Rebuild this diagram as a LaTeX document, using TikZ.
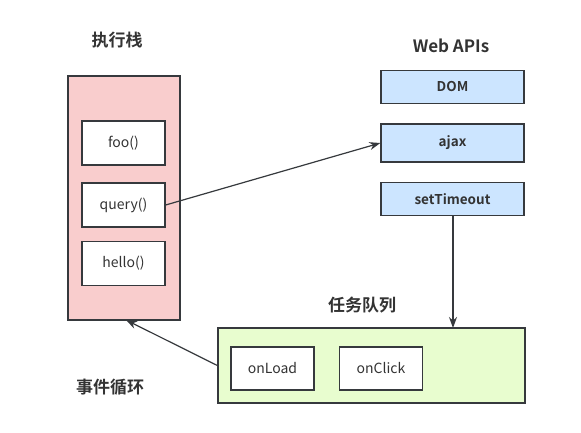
\documentclass[tikz,border=0pt]{standalone}
\usepackage{fontspec}
\setmainfont{Noto Sans CJK SC}
\newfontfamily\cjkbold{Noto Sans CJK SC Bold}
\usetikzlibrary{arrows.meta}
\definecolor{stackfill}{HTML}{F9CDCD}
\definecolor{apifill}{HTML}{CCE5FF}
\definecolor{queuefill}{HTML}{E8FDCF}
\definecolor{edge}{HTML}{36393D}
\definecolor{txt}{HTML}{333333}
\begin{document}
\begin{tikzpicture}[x=1pt,y=-1pt,
  box/.style={draw=edge,line width=1.3pt,inner sep=0pt,text=txt},
  itembox/.style={box,fill=white,minimum width=83pt,minimum height=44pt,font=\fontsize{14}{16}\selectfont},
  apibox/.style={box,fill=apifill,minimum width=143pt,minimum height=33pt,font=\cjkbold\fontsize{13.5}{16}\selectfont},
  title/.style={font=\cjkbold\fontsize{17}{19}\selectfont,inner sep=0pt,text=txt},
  conn/.style={draw=edge,line width=1.2pt,-{Stealth[length=11pt,width=8pt]}}]
\useasboundingbox (0,0) rectangle (581,433);
\fill[white] (0,0) rectangle (581,433);
% stack
\node[box,fill=stackfill,minimum width=112pt,minimum height=244pt] (stack) at (124,198) {};
\node[title] (stacktitle) at (117,40) {执行栈};
\node[itembox] (foo) at (123.5,143) {foo()};
\node[itembox] (query) at (123.5,205) {query()};
\node[itembox] (hello) at (123.5,263.5) {hello()};
% web apis
\node[title] (apititle) at (451,46) {Web APIs};
\node[apibox] (dom) at (452.5,87) {DOM};
\node[apibox,minimum height=38pt] (ajax) at (452.5,143) {ajax};
\node[apibox] (timeout) at (452.5,199) {setTimeout};
% queue
\node[box,fill=queuefill,minimum width=307pt,minimum height=75pt] (queue) at (371.5,365.5) {};
\node[title] (queuetitle) at (362,305) {任务队列};
\node[itembox,minimum height=43pt] (onload) at (272.5,368.5) {onLoad};
\node[itembox,minimum height=43pt] (onclick) at (381,368.5) {onClick};
\node[title] (looptitle) at (110,387) {事件循环};
% connectors
\coordinate (stackin) at (126,320);
\coordinate (timeoutout) at (453,215);
\coordinate (queuein) at (453,328);
\draw[conn] (query.east) -- (ajax.west);
\draw[conn] (timeoutout) -- (queuein);
\draw[conn] (queue.west) -- (stackin);
\end{tikzpicture}
\end{document}
